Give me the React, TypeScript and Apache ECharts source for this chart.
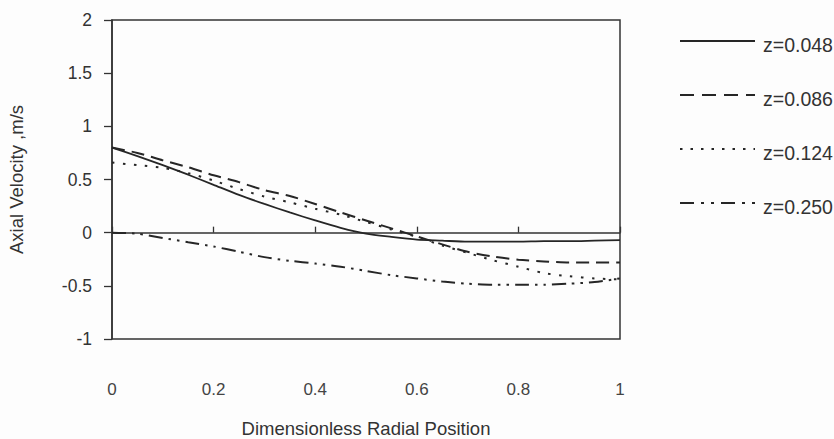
import React, { useEffect, useRef } from "react";
import * as echarts from "echarts";

// Dimensionless radial position (r/R)
const radialPos = [0, 0.05, 0.1, 0.15, 0.2, 0.25, 0.3, 0.35, 0.4, 0.45, 0.5, 0.55, 0.6, 0.65, 0.7, 0.75, 0.8, 0.85, 0.9, 0.95, 1.0];

// Axial velocity (m/s) at each axial station
const velZ048 = [0.8, 0.72, 0.635, 0.545, 0.45, 0.355, 0.27, 0.19, 0.115, 0.045, -0.01, -0.04, -0.065, -0.075, -0.085, -0.085, -0.085, -0.08, -0.08, -0.075, -0.07];
const velZ086 = [0.8, 0.75, 0.68, 0.615, 0.54, 0.475, 0.4, 0.345, 0.27, 0.19, 0.115, 0.04, -0.035, -0.11, -0.18, -0.225, -0.255, -0.27, -0.28, -0.28, -0.28];
const velZ124 = [0.66, 0.635, 0.61, 0.56, 0.49, 0.41, 0.34, 0.285, 0.225, 0.17, 0.1, 0.03, -0.04, -0.12, -0.19, -0.26, -0.32, -0.38, -0.41, -0.43, -0.44];
const velZ250 = [0, -0.01, -0.05, -0.09, -0.13, -0.18, -0.23, -0.265, -0.29, -0.32, -0.36, -0.4, -0.43, -0.46, -0.48, -0.49, -0.49, -0.49, -0.48, -0.465, -0.43];

const seriesNames = ["z=0.048", "z=0.086", "z=0.124", "z=0.250"];
const seriesValues = [velZ048, velZ086, velZ124, velZ250];

const xTicks = { min: 0, max: 1, interval: 0.2 };
const yTicks = { min: -1, max: 2, interval: 0.5 };

const lineDashes: (string | number[])[] = ["solid", [13, 7], [2.5, 8.5], [14, 6, 2.5, 6, 2.5, 6]];
const legendDashes: number[][] = [[], [14, 8], [2.5, 8], [14, 7, 3, 7, 3, 7]];

const INK = "#262626";
const FONT = "Liberation Sans, Arial, sans-serif";

export default function App() {
  const ref = useRef<HTMLDivElement>(null);

  useEffect(() => {
    document.body.style.margin = "0";
    if (!ref.current) return;
    const chart = echarts.init(ref.current, null, { renderer: "svg" });

    const series = seriesNames.map((name, i) => ({
      name,
      type: "line",
      data: radialPos.map((x, j) => [x, seriesValues[i][j]]),
      showSymbol: false,
      symbol: "none",
      smooth: 0.25,
      lineStyle: { color: INK, width: i === 0 ? 1.8 : 2, type: lineDashes[i] },
      itemStyle: { color: INK },
    }));

    // Legend: a sample stroke and label per series, stacked on the right
    const legendTop = 41;
    const legendStep = 54;
    const legendItems = seriesNames.flatMap((name, i) => [
      {
        type: "line",
        shape: { x1: 680, y1: legendTop + i * legendStep, x2: 755, y2: legendTop + i * legendStep },
        style: { stroke: INK, lineWidth: 2, lineDash: legendDashes[i].length ? legendDashes[i] : null },
        silent: true,
      },
      {
        type: "text",
        x: 763,
        y: legendTop + i * legendStep + 4,
        style: {
          text: name,
          fill: "#333",
          font: `19.5px ${FONT}`,
          textVerticalAlign: "middle",
          verticalAlign: "middle",
        },
        silent: true,
      },
    ]);

    chart.setOption({
      animation: false,
      backgroundColor: "#fdfdfd",
      textStyle: { fontFamily: FONT },
      grid: {
        left: 112,
        top: 20,
        width: 508,
        height: 319,
        containLabel: false,
        outerBoundsMode: "none",
        show: true,
        borderColor: "#333",
        borderWidth: 1.5,
        backgroundColor: "transparent",
      },
      graphic: legendItems,
      xAxis: {
        type: "value",
        min: xTicks.min,
        max: xTicks.max,
        interval: xTicks.interval,
        name: "Dimensionless Radial Position",
        nameLocation: "middle",
        nameGap: 80,
        nameTextStyle: { fontSize: 18.5, color: "#333", fontFamily: FONT },
        axisLine: { onZero: true, lineStyle: { color: "#333", width: 1.5 } },
        axisTick: { inside: true, length: 6, lineStyle: { color: "#333", width: 1.3 } },
        axisLabel: { margin: 42, fontSize: 17, color: "#444", fontFamily: FONT },
        splitLine: { show: false },
      },
      yAxis: {
        type: "value",
        min: yTicks.min,
        max: yTicks.max,
        interval: yTicks.interval,
        name: "Axial Velocity ,m/s",
        nameLocation: "middle",
        nameRotate: 90,
        nameGap: 86,
        nameTextStyle: { fontSize: 18.5, color: "#333", fontFamily: FONT },
        axisLine: { show: true, onZero: false, lineStyle: { color: "#333", width: 1.5 } },
        axisTick: { show: true, inside: false, length: 8, lineStyle: { color: "#333", width: 1.3 } },
        axisLabel: { margin: 20, fontSize: 17.5, color: "#333", fontFamily: FONT },
        splitLine: { show: false },
      },
      series,
    });

    return () => chart.dispose();
  }, []);

  return <div ref={ref} style={{ width: 834, height: 439 }} />;
}
